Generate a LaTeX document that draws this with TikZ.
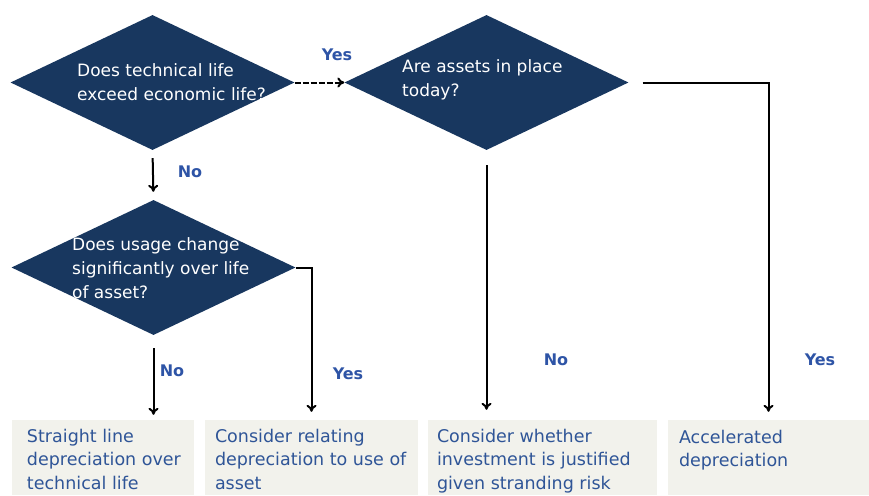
\documentclass[tikz,border=0pt]{standalone}
\usepackage{fontspec}
\setmainfont{DejaVu Sans}
\usetikzlibrary{shapes.geometric,arrows.meta}
\definecolor{navy}{RGB}{24,55,95}
\definecolor{boxfill}{RGB}{242,242,236}
\definecolor{outblue}{RGB}{47,85,151}
\definecolor{ansblue}{RGB}{46,84,166}

\begin{document}
\begin{tikzpicture}[x=1pt,y=-1pt,
	decision/.style={diamond,fill=navy,inner sep=0pt,minimum width=284pt,minimum height=135pt},
	asktext/.style={anchor=west,inner sep=0pt,align=left,text=white,font=\fontsize{17}{24}\selectfont},
	outcome/.style={rectangle,fill=boxfill,inner sep=0pt,minimum height=75pt},
	outtext/.style={anchor=north west,inner sep=0pt,align=left,text=outblue,font=\fontsize{17.5}{23.5}\selectfont},
	answer/.style={inner sep=0pt,text=ansblue,font=\bfseries\fontsize{16}{16}\selectfont},
	flow/.style={-{To[length=7pt,width=10pt]},line width=2pt}]
	\useasboundingbox (0,0) rectangle (869,495);
	% decisions
	\node[decision] (d1) at (152.5,82.5) {};
	\node[decision] (d2) at (486.5,82.5) {};
	\node[decision] (d3) at (153.5,267.5) {};
	\node[asktext] (q1) at (77,82) {Does technical life\\exceed economic life?};
	\node[asktext] (q2) at (402,80) {Are assets in place\\today?};
	\node[asktext] (q3) at (72,268) {Does usage change\\significantly over life\\of asset?};
	% outcomes
	\node[outcome,minimum width=182pt] (b1) at (103,457.5) {};
	\node[outcome,minimum width=213pt] (b2) at (311.5,457.5) {};
	\node[outcome,minimum width=229pt] (b3) at (542.5,457.5) {};
	\node[outcome,minimum width=201pt] (b4) at (768.5,457.5) {};
	\node[outtext] (o1) at ([xshift=15pt,yshift=-9pt]b1.north west) {Straight line\\depreciation over\\technical life};
	\node[outtext] (o2) at ([xshift=10pt,yshift=-9pt]b2.north west) {Consider relating\\depreciation to use of\\asset};
	\node[outtext] (o3) at ([xshift=9pt,yshift=-9pt]b3.north west) {Consider whether\\investment is justified\\given stranding risk};
	\node[outtext] (o4) at ([xshift=11pt,yshift=-10pt]b4.north west) {Accelerated\\depreciation};
	% connectors
	\draw[flow,dash pattern=on 6pt off 2pt] (d1.east) -- (d2.west);
	\draw[flow,shorten <=8pt,shorten >=8pt] (d1.south) -- (d3.north);
	\draw[flow,shorten <=13pt,shorten >=5pt] (d3.south) -- (d3.south |- b1.north);
	\draw[flow,shorten >=8pt] (d3.east) -| (b2.north);
	\draw[flow,shorten <=15pt,shorten >=10pt] (d2.south) -- (d2.south |- b3.north);
	\draw[flow,shorten <=14pt,shorten >=8pt] (d2.east) -| (b4.north);
	% answers
	\node[answer] (yes1) at (337,55) {Yes};
	\node[answer] (no1) at (190,172) {No};
	\node[answer] (no2) at (172,371) {No};
	\node[answer] (yes2) at (348,374) {Yes};
	\node[answer] (no3) at (556,360) {No};
	\node[answer] (yes3) at (820,360) {Yes};
\end{tikzpicture}
\end{document}
